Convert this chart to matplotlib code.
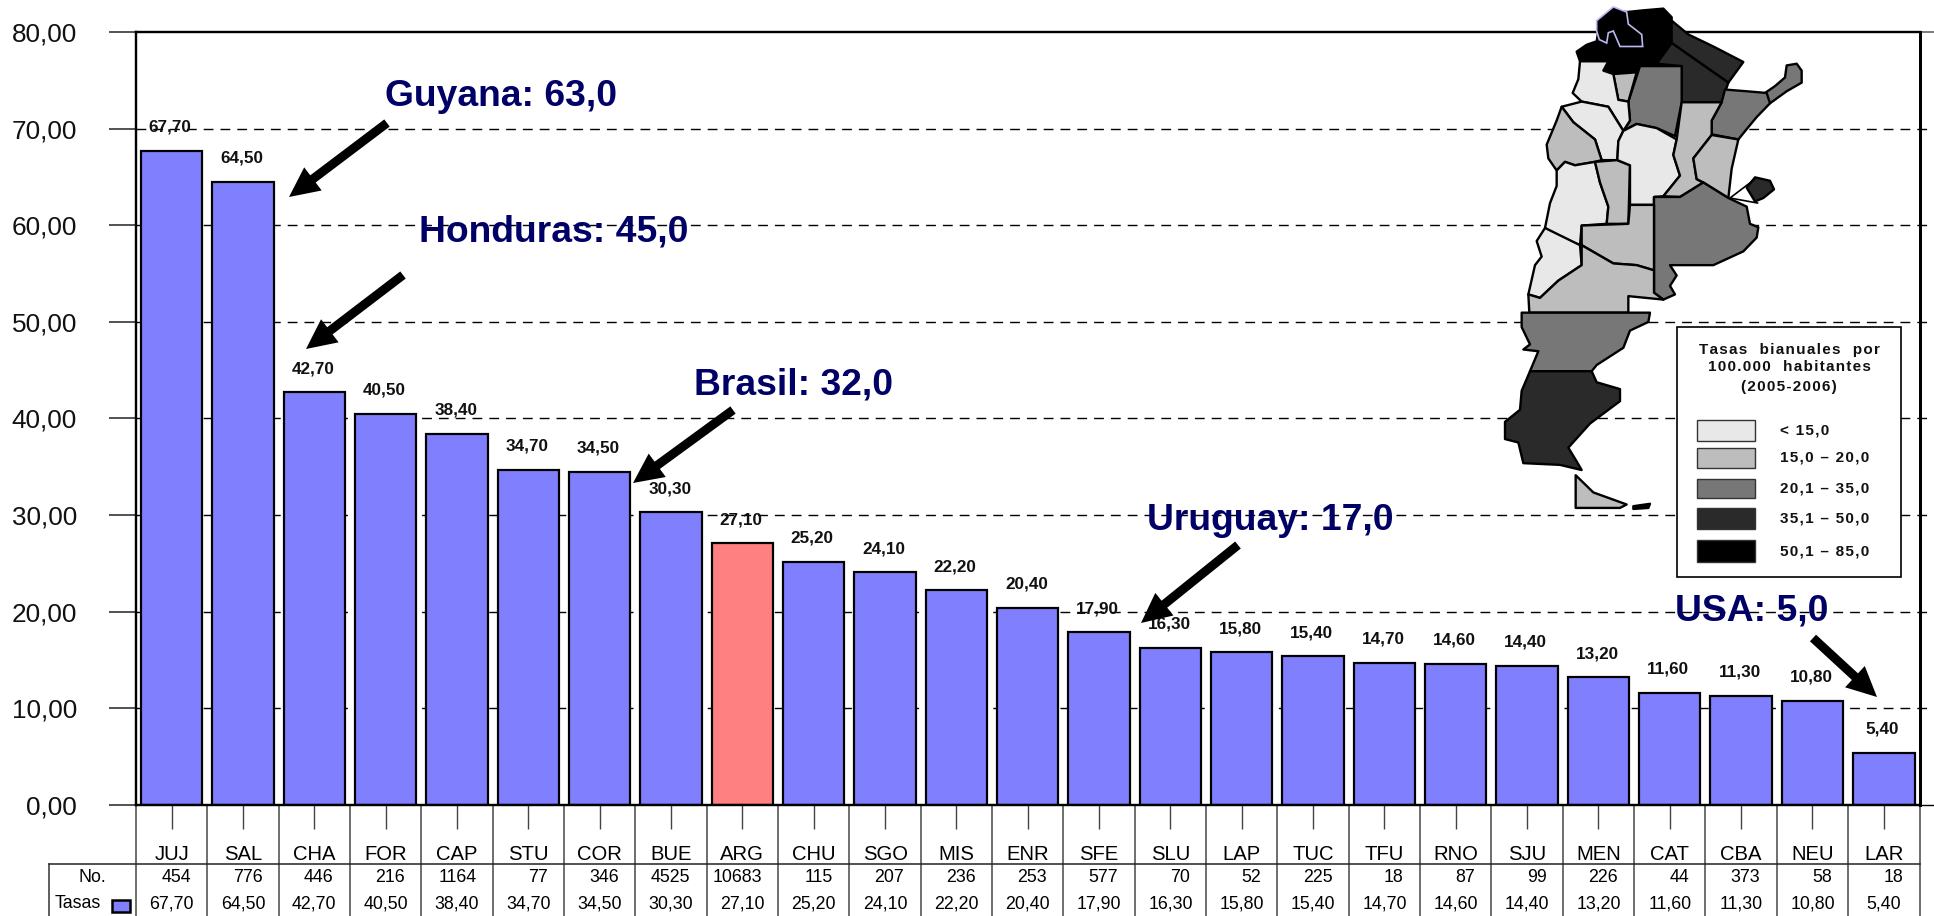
import matplotlib
matplotlib.use("Agg")
import matplotlib.pyplot as plt
from matplotlib.patches import Polygon, FancyArrow, Rectangle

plt.rcParams['font.family'] = ['Liberation Sans', 'DejaVu Sans']

provinces = ["JUJ","SAL","CHA","FOR","CAP","STU","COR","BUE","ARG","CHU","SGO","MIS","ENR","SFE","SLU","LAP","TUC","TFU","RNO","SJU","MEN","CAT","CBA","NEU","LAR"]
tasas = [67.7,64.5,42.7,40.5,38.4,34.7,34.5,30.3,27.1,25.2,24.1,22.2,20.4,17.9,16.3,15.8,15.4,14.7,14.6,14.4,13.2,11.6,11.3,10.8,5.4]
casos = [454,776,446,216,1164,77,346,4525,10683,115,207,236,253,577,70,52,225,18,87,99,226,44,373,58,18]
highlight = "ARG"
yticks = [0,10,20,30,40,50,60,70,80]

notes = [("Guyana: 63,0",385,97,(387,123),(289,197)),
         ("Honduras: 45,0",419,232,(403,275),(306,349)),
         ("Brasil: 32,0",694,385,(733,410),(633,483)),
         ("Uruguay: 17,0",1147,521,(1238,545),(1141,623)),
         ("USA: 5,0",1675,611,(1813,638),(1877,697))]

C1,C2,C3,C4,C5 = '#e8e8e8','#bdbdbd','#777777','#2a2a2a','#000000'
map_regions = [
 (C5,[(290,150),(320,130),(350,120),(360,60),(400,30),(440,35),(490,30),(550,25),(575,50),(575,125),(530,185),(480,195),(470,210),(400,215),(370,205),(385,178),(300,178)]),
 (C4,[(575,60),(625,100),(700,135),(790,180),(745,240),(575,125)]),
 (C4,[(575,125),(745,240),(725,297),(605,297),(605,192),(530,185)]),
 (C3,[(855,270),(885,250),(915,225),(920,190),(950,185),(965,205),(965,240),(920,265),(870,300)]),
 (C3,[(735,260),(800,265),(860,270),(870,300),(830,340),(800,375),(775,405),(695,390),(695,350),(725,297)]),
 (C3,[(480,192),(605,192),(605,297),(585,395),(530,372),(470,360),(430,380),(450,350),(445,295)]),
 (C2,[(400,215),(470,210),(445,295),(415,290)]),
 (C1,[(300,178),(385,178),(370,205),(400,215),(415,290),(445,295),(450,350),(430,380),(385,310),(305,295),(278,270),(295,230)]),
 (C1,[(245,310),(305,295),(385,310),(430,380),(415,410),(412,465),(365,465),(345,405),(280,355)]),
 (C2,[(230,350),(245,310),(280,355),(345,405),(365,465),(345,470),(285,480),(255,470),(230,495),(205,460),(200,420)]),
 (C1,[(230,495),(255,470),(285,480),(345,470),(360,530),(385,600),(380,650),(305,655),(300,712),(235,685),(195,662),(210,590),(230,540)]),
 (C2,[(345,470),(412,465),(450,480),(445,650),(380,650),(385,600),(360,530)]),
 (C1,[(412,465),(415,410),(430,380),(470,360),(530,372),(590,405),(580,450),(600,510),(550,570),(522,572),(522,595),(450,595),(450,480)]),
 (C2,[(605,297),(725,297),(695,350),(695,392),(640,460),(650,520),(670,530),(600,572),(550,570),(600,510),(580,450),(590,405)]),
 (C2,[(695,392),(775,405),(755,490),(745,575),(670,530),(650,520),(640,460)]),
 (C3,[(522,572),(600,572),(670,530),(745,575),(800,600),(810,650),(835,660),(830,690),(790,730),(700,770),(570,770),(590,800),(570,830),(585,855),(550,870),(522,850)]),
 (C2,[(305,655),(445,650),(450,595),(522,595),(522,785),(470,770),(400,765),(305,712)]),
 (C1,[(195,662),(300,712),(305,770),(235,815),(180,865),(145,855),(165,770),(185,745),(170,700)]),
 (C2,[(305,712),(400,765),(470,770),(522,785),(522,850),(550,870),(445,860),(445,908),(148,908),(145,855),(180,865),(235,815),(305,770)]),
 (C3,[(125,908),(445,908),(510,908),(505,935),(450,960),(430,1010),(350,1060),(335,1078),(150,1078),(175,1020),(130,1015),(150,1000),(125,950)]),
 (C4,[(150,1078),(335,1078),(350,1110),(420,1130),(420,1165),(330,1230),(265,1300),(290,1340),(305,1365),(240,1350),(130,1345),(115,1285),(75,1275),(75,1225),(120,1190),(125,1135)]),
 (C2,[(287,1380),(340,1430),(440,1465),(420,1475),(287,1475)]),
 (C4,[(800,545),(825,515),(870,525),(882,550),(850,575),(825,585)]),
 (C5,[(460,1470),(510,1463),(505,1475),(460,1478)]),
]
jujuy = [(350,60),(400,20),(440,35),(445,70),(485,100),(488,135),(420,135),(400,90),(385,95),(380,125),(358,115),(350,90)]
malvinas_pointer = [(825,520),(750,575),(835,590)]

legend_title = ["Tasas  bianuales  por","100.000  habitantes","(2005-2006)"]
legend_labels = ["< 15,0","15,0 – 20,0","20,1 – 35,0","35,1 – 50,0","50,1 – 85,0"]
legend_colors = [C1,C2,C3,C4,C5]

def spaced(s):
    return "\u200a".join(s)

W,H = 1934,916
L,R,T,B = 136,1919.5,32,805
fig = plt.figure(figsize=(W/100,H/100),dpi=100,facecolor='white')
ax = fig.add_axes([L/W,1-B/H,(R-L)/W,(B-T)/H])
n = len(provinces)
ax.set_xlim(0,n); ax.set_ylim(0,80)
xs = [i+0.5 for i in range(n)]
px = 0.72
colors = ['#FF8080' if p==highlight else '#8080FF' for p in provinces]
ax.bar(xs,tasas,width=0.86,color=colors,edgecolor='black',linewidth=2.2*px,zorder=3)

trans = ax.get_xaxis_transform()
for t in yticks[1:-1]:
    ax.plot([0,n+0.2],[t,t],color='black',lw=1.4*px,dashes=(7,5),zorder=1,clip_on=False)
ax.plot([n,n+0.2],[80,80],color='#666666',lw=1.2,clip_on=False)
ax.plot([n,n+0.2],[0,0],color='black',lw=1,clip_on=False)

for s in ('top','left','right','bottom'):
    ax.spines[s].set_linewidth(2.4*px)
    ax.spines[s].set_zorder(4)
ax.spines['right'].set_linewidth(3*px)

ax.set_yticks(yticks)
ax.set_yticklabels([f"{t:.2f}".replace('.',',') for t in yticks],fontsize=18.8,color='#111111')
ax.tick_params(axis='y',length=27*px,width=1.3,color='#444444',pad=32*px)
ax.set_xticks(xs)
ax.set_xticklabels(provinces,fontsize=14.6,color='black')
ax.tick_params(axis='x',length=24*px,width=1,color='#444444',pad=16*px)

for x,v in zip(xs,tasas):
    ax.annotate(f"{v:.2f}".replace('.',','),(x,v),xytext=(-1,23.5*px),textcoords='offset points',
                ha='center',va='center',fontsize=12.3,fontweight='bold',color='#111111',zorder=6)

def rowy(py):
    return (B-py)/(B-T)
ax.vlines(range(n+1),rowy(H+2),0,transform=trans,color='#555555',lw=1.2,clip_on=False,zorder=2)
ax.plot([-(L-48.7)/((R-L)/n),n],[rowy(864),rowy(864)],transform=trans,color='#222222',lw=1.1,clip_on=False)
ax.plot([-(L-48.7)/((R-L)/n)]*2,[rowy(864),rowy(H+2)],transform=trans,color='#333333',lw=1.1,clip_on=False)
for x,c,v in zip(xs,casos,tasas):
    ax.text(x+0.27,rowy(877),str(c),transform=trans,ha='right',va='center',fontsize=12.8,clip_on=False)
    ax.text(x,rowy(904),f"{v:.2f}".replace('.',','),transform=trans,ha='center',va='center',fontsize=12.8,clip_on=False)

ov = fig.add_axes([0,0,1,1],facecolor='none',zorder=5)
ov.set_xlim(0,W); ov.set_ylim(H,0); ov.axis('off')

ov.text(92,877,"No.",ha='center',va='center',fontsize=12.8)
ov.text(55,904,"Tasas",ha='left',va='center',fontsize=12.8)
ov.add_patch(Rectangle((112,900),18,12,fc='#8080FF',ec='black',lw=1.8))

def m(pts):
    return [(1480+x/3,y/2.904) for x,y in pts]
for col,pts in map_regions:
    ov.add_patch(Polygon(m(pts),closed=True,fc=col,ec='black',lw=1.7,joinstyle='round'))
ov.add_patch(Polygon(m(jujuy),closed=True,fc='black',ec='#b9b9f0',lw=1.2))
ov.add_patch(Polygon(m(malvinas_pointer),closed=False,fill=False,ec='black',lw=1.2))

ov.add_patch(Rectangle((1677,327),224,250,fc='white',ec='black',lw=1.2))
for s,y in zip(legend_title,[350,367,387]):
    ov.text(1789,y,spaced(s),ha='center',va='center',fontsize=11,fontweight='bold',color='#111111')
ys = [(420,441),(448,468),(479,498),(508,529),(540,562)]
for (y0,y1),c,l in zip(ys,legend_colors,legend_labels):
    ov.add_patch(Rectangle((1697,y0),58,y1-y0,fc=c,ec='#333333',lw=1))
    ov.text(1780,(y0+y1)/2,spaced(l),ha='left',va='center',fontsize=11,fontweight='bold',color='#111111')

for txt,x,y,a,b in notes:
    ov.text(x,y,txt,ha='left',va='center',fontsize=26.8,fontweight='bold',color='#000066')
    ov.add_patch(FancyArrow(a[0],a[1],b[0]-a[0],b[1]-a[1],width=9,head_width=29,head_length=30,
                            length_includes_head=True,fc='black',ec='black',lw=0))

fig.savefig("out.png",dpi=100,facecolor='white')
